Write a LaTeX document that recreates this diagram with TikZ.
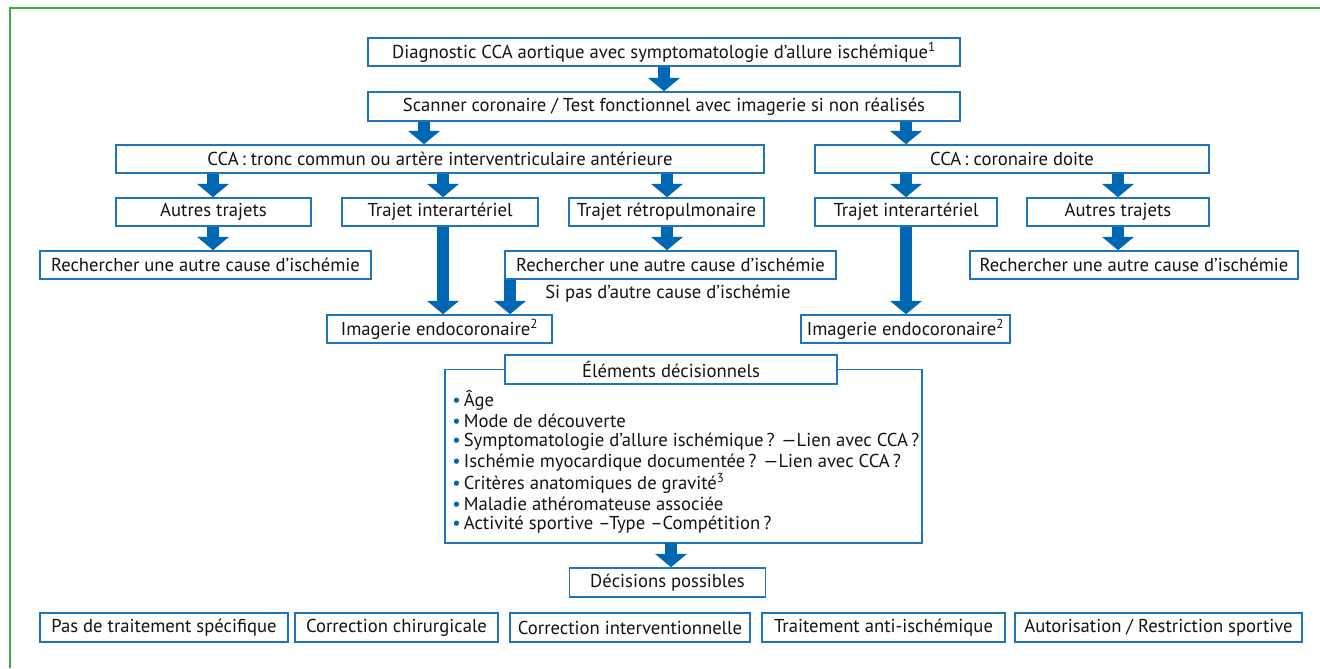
\documentclass[tikz,border=0pt]{standalone}
\usepackage{fontspec}
\setmainfont{PT Sans}
\usetikzlibrary{arrows.meta}
\definecolor{bblue}{HTML}{1F74BC}
\definecolor{abblue}{HTML}{0068B3}
\definecolor{fgreen}{HTML}{3DAA47}
\definecolor{txt}{HTML}{141414}
\begin{document}
\begin{tikzpicture}[x=0.75pt,y=-0.75pt,
  box/.style={draw=bblue, line width=1.2pt, fill=white, inner sep=0pt, text=txt,
              font=\fontsize{14}{16}\selectfont},
  barrow/.style={abblue, line width=9pt, -{Triangle[width=24pt,length=10pt,line width=0pt]}},
  lbl/.style={text=txt, font=\fontsize{14}{16}\selectfont, inner sep=0pt},
  blt/.style={text=txt, font=\fontsize{14}{16}\selectfont, inner sep=0pt, anchor=west}]
\useasboundingbox (0,0) rectangle (1320,668);
\draw[fgreen, line width=2.2pt] (1320,8) -- (10,8) -- (10,668);

% row 0/1
\node[box, minimum width=592*0.75pt, minimum height=28*0.75pt] (diag) at (664,52)
  {Diagnostic CCA aortique avec symptomatologie d’allure ischémique\textsuperscript{1}};
\node[box, minimum width=592*0.75pt, minimum height=29*0.75pt] (scan) at (664,106.5)
  {Scanner coronaire / Test fonctionnel avec imagerie si non réalisés};
% row 2
\node[box, minimum width=648*0.75pt, minimum height=28*0.75pt] (ccal) at (440,159)
  {CCA\,: tronc commun ou artère interventriculaire antérieure};
\node[box, minimum width=394*0.75pt, minimum height=28*0.75pt] (ccar) at (1012,159)
  {CCA\,: coronaire doite};
% row 3
\node[box, minimum width=195*0.75pt, minimum height=28*0.75pt] (autl) at (213.5,212) {Autres trajets};
\node[box, minimum width=196*0.75pt, minimum height=28*0.75pt] (intl) at (440,212) {Trajet interartériel};
\node[box, minimum width=195*0.75pt, minimum height=28*0.75pt] (retro) at (666.5,212) {Trajet rétropulmonaire};
\node[box, minimum width=182*0.75pt, minimum height=28*0.75pt] (intr) at (906,212) {Trajet interartériel};
\node[box, minimum width=182*0.75pt, minimum height=28*0.75pt] (autr) at (1118,212) {Autres trajets};
% row 4
\node[box, minimum width=331*0.75pt, minimum height=28*0.75pt] (rechl) at (205.5,265) {Rechercher une autre cause d’ischémie};
\node[box, minimum width=331*0.75pt, minimum height=28*0.75pt] (rechm) at (670.5,265) {Rechercher une autre cause d’ischémie};
\node[box, minimum width=328*0.75pt, minimum height=28*0.75pt] (rechr) at (1134,265) {Rechercher une autre cause d’ischémie};
% row 5
\node[box, minimum width=225*0.75pt, minimum height=28*0.75pt] (imgl) at (439.5,329) {Imagerie endocoronaire\textsuperscript{2}};
\node[box, minimum width=209*0.75pt, minimum height=28*0.75pt] (imgr) at (905.5,329) {Imagerie endocoronaire\textsuperscript{2}};
\node[lbl, anchor=west] (sipas) at (545,294) {Si pas d’autre cause d’ischémie};

% decision box
\draw[bblue, line width=1.2pt] (445,369.5) rectangle (922,543);
\coordinate (elbot) at (671,543);
\node[box, minimum width=332*0.75pt, minimum height=29*0.75pt] (elem) at (671,369.5) {Éléments décisionnels};
\foreach \t [count=\i] in {Âge, Mode de découverte,
  Symptomatologie d’allure ischémique\,? —Lien avec CCA\,?,
  Ischémie myocardique documentée\,? —Lien avec CCA\,?,
  Critères anatomiques de gravité\textsuperscript{3},
  Maladie athéromateuse associée,
  Activité sportive –Type –Compétition\,?}
  \node[blt] (b\i) at (452,{400+(\i-1)*20.8}) {\textcolor{abblue}{•}\,\t};
\node[box, minimum width=196*0.75pt, minimum height=29*0.75pt] (dec) at (667.5,582.5) {Décisions possibles};

% bottom row
\node[box, minimum width=248*0.75pt, minimum height=29*0.75pt] (o1) at (164,627.5) {Pas de traitement spécifique};
\node[box, minimum width=203*0.75pt, minimum height=29*0.75pt] (o2) at (396.5,627.5) {Correction chirurgicale};
\node[box, minimum width=240*0.75pt, minimum height=29*0.75pt] (o3) at (630,627.5) {Correction interventionnelle};
\node[box, minimum width=243*0.75pt, minimum height=29*0.75pt] (o4) at (883.5,627.5) {Traitement anti-ischémique};
\node[box, minimum width=287*0.75pt, minimum height=29*0.75pt] (o5) at (1158.5,627.5) {Autorisation / Restriction sportive};

% arrows
\draw[barrow] (diag.south -| 664,0) -- (scan.north -| 664,0);
\draw[barrow] (scan.south -| 424,0) -- (ccal.north -| 424,0);
\draw[barrow] (scan.south -| 906,0) -- (ccar.north -| 906,0);
\draw[barrow] (ccal.south -| 213,0) -- (autl.north -| 213,0);
\draw[barrow] (ccal.south -| 443,0) -- (intl.north -| 443,0);
\draw[barrow] (ccal.south -| 667,0) -- (retro.north -| 667,0);
\draw[barrow] (ccar.south -| 906,0) -- (intr.north -| 906,0);
\draw[barrow] (ccar.south -| 1118,0) -- (autr.north -| 1118,0);
\draw[barrow] (autl.south -| 213,0) -- (rechl.north -| 213,0);
\draw[barrow] (retro.south -| 667,0) -- (rechm.north -| 667,0);
\draw[barrow] (autr.south -| 1118,0) -- (rechr.north -| 1118,0);
\draw[barrow] (intl.south -| 443,0) -- (imgl.north -| 443,0);
\draw[barrow] (rechm.south -| 510,0) -- (imgl.north -| 510,0);
\draw[barrow] (intr.south -| 906,0) -- (imgr.north -| 906,0);
\draw[barrow] (elbot) -- (dec.north -| elbot);
\end{tikzpicture}
\end{document}
